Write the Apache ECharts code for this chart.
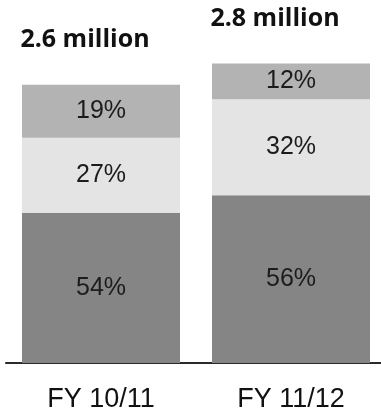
<!DOCTYPE html>
<html>
<head>
<meta charset="utf-8">
<script src="https://cdn.jsdelivr.net/npm/echarts@6/dist/echarts.min.js"></script>
<style>
  html, body { margin: 0; padding: 0; background: #ffffff; }
  #chart { width: 381px; height: 415px; }
</style>
</head>
<body>
<div id="chart"></div>
<script>
// Fiscal years on the x axis
const categories = ['FY 10/11', 'FY 11/12'];
// Total per year, in millions (label printed above each bar)
const totals = [2.6, 2.8];
const totalLabels = ['2.6 million', '2.8 million'];
// Share of the total held by each segment, in percent (bottom to top)
const bottomShare = [54, 56];
const middleShare = [27, 32];
const topShare = [19, 12];

const segments = [
  { key: 'bottom', shares: bottomShare, color: '#858585' },
  { key: 'middle', shares: middleShare, color: '#e4e4e4' },
  { key: 'top', shares: topShare, color: '#b3b3b3' }
];

const percentLabel = {
  show: true,
  position: 'inside',
  fontFamily: 'Liberation Sans, Arial, sans-serif',
  fontSize: 25,
  color: '#1c1c1c'
};

const series = segments.map(function (seg) {
  return {
    name: seg.key,
    type: 'bar',
    stack: 'total',
    barWidth: 158,
    itemStyle: { color: seg.color },
    label: Object.assign({}, percentLabel, {
      formatter: function (p) { return seg.shares[p.dataIndex] + '%'; }
    }),
    data: totals.map(function (t, i) { return t * seg.shares[i] / 100; })
  };
});

// Totals written above each stacked bar
series.push({
  name: 'totals',
  type: 'bar',
  stack: 'total',
  barWidth: 158,
  itemStyle: { color: 'transparent' },
  silent: true,
  label: {
    show: true,
    position: 'top',
    distance: 0,
    offset: [-16, -32],
    fontFamily: 'Open Sans, sans-serif',
    fontWeight: 'bold',
    fontSize: 25,
    color: '#111111',
    formatter: function (p) { return totalLabels[p.dataIndex]; }
  },
  data: totals.map(function () { return 0; })
});

const chart = echarts.init(document.getElementById('chart'));
chart.setOption({
  animation: false,
  backgroundColor: '#ffffff',
  grid: {
    left: 6, top: 42, width: 380, bottom: 52,
    containLabel: false,
    outerBoundsMode: 'none'
  },
  xAxis: {
    type: 'category',
    data: categories,
    axisLine: { lineStyle: { color: '#2a2a2a', width: 2 } },
    axisTick: { show: false },
    axisLabel: {
      margin: 23,
      fontFamily: 'Liberation Sans, Arial, sans-serif',
      fontSize: 27,
      color: '#111111'
    }
  },
  yAxis: {
    type: 'value',
    min: 0,
    max: 3,
    show: false,
    splitLine: { show: false }
  },
  series: series
});
</script>
</body>
</html>
